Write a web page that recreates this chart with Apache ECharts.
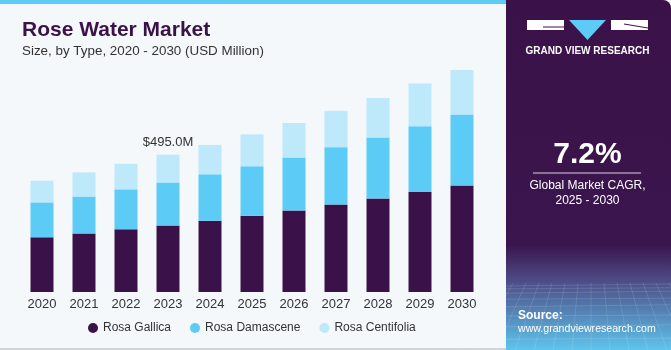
<!DOCTYPE html>
<html>
<head>
<meta charset="utf-8">
<script src="https://cdn.jsdelivr.net/npm/echarts@6/dist/echarts.min.js"></script>
<style>
  html, body { margin: 0; padding: 0; background: #f4f8fb; }
  #main { width: 671px; height: 350px; }
</style>
</head>
<body>
<div id="main"></div>
<script>
const years = ["2020", "2021", "2022", "2023", "2024", "2025", "2026", "2027", "2028", "2029", "2030"];
const rosaGallica = [197, 211, 226, 240, 257, 275, 294, 315, 337, 360, 384];
const rosaDamascene = [126, 133, 144, 155, 167, 178, 191, 207, 220, 237, 256];
const rosaCentifolia = [78, 87, 92, 100, 106, 115, 124, 131, 142, 154, 164];
const highlightIndex = 3;
const highlightLabel = "$495.0M";

const chart = echarts.init(document.getElementById("main"));
const font = "Liberation Sans, Arial, sans-serif";

// mesh texture on the bottom of the side panel
const mesh = [];
for (let i = 0; i < 9; i++) {
  const y = 286 + i * i * 0.8 + i * 2;
  mesh.push({
    type: "line",
    shape: { x1: 506, y1: y, x2: 671, y2: y - 2 + (i % 2) },
    style: { stroke: "rgba(255,255,255,0.13)", lineWidth: 1 },
    z: 3
  });
}
for (let i = 0; i < 14; i++) {
  const x = 500 + i * 13;
  mesh.push({
    type: "line",
    shape: { x1: x, y1: 283, x2: x + (i - 7) * 6, y2: 350 },
    style: { stroke: "rgba(255,255,255,0.12)", lineWidth: 1 },
    z: 3
  });
}

const option = {
  backgroundColor: "#f4f8fb",
  animation: false,
  title: [
    {
      text: "Rose Water Market",
      left: 17, top: 15,
      textStyle: { fontFamily: font, fontSize: 21, fontWeight: "bold", color: "#3a1249" }
    },
    {
      text: "Size, by Type, 2020 - 2030 (USD Million)",
      left: 17, top: 40,
      textStyle: { fontFamily: font, fontSize: 13.4, fontWeight: "normal", color: "#333333" }
    }
  ],
  legend: {
    bottom: 11,
    left: 83,
    itemGap: 19,
    itemWidth: 10,
    itemHeight: 10,
    icon: "circle",
    textStyle: { fontFamily: font, fontSize: 12, color: "#333333" },
    data: ["Rosa Gallica", "Rosa Damascene", "Rosa Centifolia"]
  },
  grid: { left: 21, width: 462, top: 70, bottom: 58 },
  xAxis: {
    type: "category",
    data: years,
    axisLine: { show: false },
    axisTick: { show: false },
    axisLabel: { fontFamily: font, fontSize: 13, color: "#333333", margin: 6 }
  },
  yAxis: {
    type: "value",
    min: 0,
    max: 800,
    show: false
  },
  series: [
    {
      name: "Rosa Gallica",
      type: "bar",
      stack: "total",
      barWidth: 23,
      itemStyle: { color: "#3a1249" },
      data: rosaGallica
    },
    {
      name: "Rosa Damascene",
      type: "bar",
      stack: "total",
      itemStyle: { color: "#5ccbf6" },
      data: rosaDamascene
    },
    {
      name: "Rosa Centifolia",
      type: "bar",
      stack: "total",
      itemStyle: { color: "#bde9fa" },
      data: rosaCentifolia.map((v, i) => i === highlightIndex ? {
        value: v,
        label: {
          show: true,
          position: "top",
          distance: 6,
          formatter: highlightLabel,
          fontFamily: font,
          fontSize: 13,
          color: "#333333"
        }
      } : v)
    }
  ],
  graphic: [
    { type: "rect", shape: { x: 0, y: 0, width: 506, height: 4 }, style: { fill: "#5ccbf6" }, z: 1 },
    { type: "rect", shape: { x: 0, y: 348, width: 671, height: 2 }, style: { fill: "#d0d4d8" }, z: 1 },
    {
      type: "rect",
      shape: { x: 506, y: 0, width: 165, height: 350, r: [0, 8, 0, 0] },
      style: {
        fill: new echarts.graphic.LinearGradient(0, 0, 0, 1, [
          { offset: 0, color: "#3a1249" },
          { offset: 0.7, color: "#3b154d" },
          { offset: 0.8, color: "#4c4b85" },
          { offset: 1, color: "#5ec5ee" }
        ])
      },
      z: 2
    },
    ...mesh,
    // logo
    { type: "rect", shape: { x: 527, y: 20, width: 37, height: 10 }, style: { fill: "#ffffff" }, z: 4 },
    { type: "polygon", shape: { points: [[569, 20], [606, 20], [587.5, 40]] }, style: { fill: "#5ccbf6" }, z: 4 },
    { type: "rect", shape: { x: 611, y: 20, width: 37, height: 10 }, style: { fill: "#ffffff" }, z: 4 },
    { type: "line", shape: { x1: 543, y1: 27, x2: 564, y2: 27 }, style: { stroke: "#3a1249", lineWidth: 1 }, z: 5 },
    { type: "line", shape: { x1: 624, y1: 24, x2: 648, y2: 28 }, style: { stroke: "#3a1249", lineWidth: 1 }, z: 5 },
    {
      type: "text", x: 587.5, y: 51,
      style: { text: "GRAND VIEW RESEARCH", fill: "#ffffff", font: "bold 10px " + font, align: "center", verticalAlign: "middle" },
      z: 4
    },
    {
      type: "text", x: 587.5, y: 155,
      style: { text: "7.2%", fill: "#ffffff", font: "bold 30px " + font, align: "center", verticalAlign: "middle" },
      z: 4
    },
    { type: "line", shape: { x1: 533, y1: 173, x2: 641, y2: 173 }, style: { stroke: "rgba(255,255,255,0.8)", lineWidth: 1 }, z: 4 },
    {
      type: "text", x: 587.5, y: 186,
      style: { text: "Global Market CAGR,", fill: "#ffffff", font: "12px " + font, align: "center", verticalAlign: "middle" },
      z: 4
    },
    {
      type: "text", x: 587.5, y: 201,
      style: { text: "2025 - 2030", fill: "#ffffff", font: "12px " + font, align: "center", verticalAlign: "middle" },
      z: 4
    },
    {
      type: "text", x: 518, y: 316,
      style: { text: "Source:", fill: "#ffffff", font: "bold 12px " + font, verticalAlign: "middle" },
      z: 4
    },
    {
      type: "text", x: 518, y: 329,
      style: { text: "www.grandviewresearch.com", fill: "#ffffff", font: "10.6px " + font, verticalAlign: "middle" },
      z: 4
    }
  ]
};

chart.setOption(option);
</script>
</body>
</html>
